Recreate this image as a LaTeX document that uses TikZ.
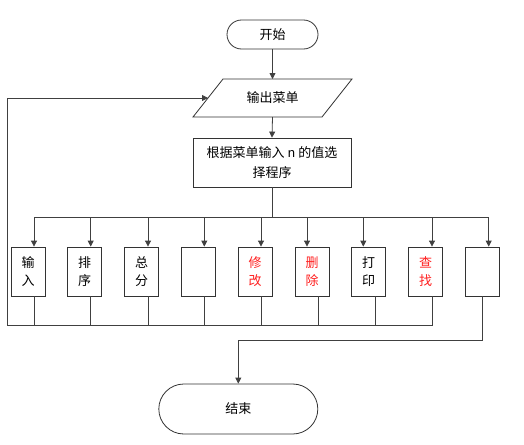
\documentclass[tikz,border=0pt]{standalone}
\usepackage{fontspec}
\setmainfont{Noto Sans CJK SC}
\newfontfamily\nfont{Liberation Mono}
\usetikzlibrary{arrows.meta}
\definecolor{linecol}{HTML}{404040}
\definecolor{redtxt}{HTML}{FF2020}
\begin{document}
\begin{tikzpicture}[x=1pt,y=-1pt,
  every node/.style={font=\fontsize{13}{18}\selectfont, inner sep=0pt},
  ln/.style={draw=linecol, line width=0.8pt},
  arr/.style={ln, -{Triangle[length=6pt,width=6pt]}},
  shape box/.style={draw=black!80, line width=0.8pt, fill=white},
  term/.style={shape box, rounded corners},
  smallbox/.style={shape box, minimum width=34pt, minimum height=49pt, align=center}]
\useasboundingbox (0,0) rectangle (524,444);
% start
\node[term, minimum width=91pt, minimum height=29pt, rounded corners=14.5pt] (start) at (272.5,34.5) {开始};
% menu parallelogram
\draw[shape box] (223,79) -- (352,79) -- (322,117) -- (193,117) -- cycle;
\node (menu) at (272.5,98) {输出菜单};
\coordinate (mtop) at (272.5,79);
\coordinate (mbot) at (272.5,117);
\coordinate (mleft) at (208,98);
% process
\node[shape box, minimum width=158pt, minimum height=49pt, align=center, font=\fontsize{13}{20}\selectfont] (proc) at (272,162.5) {根据菜单输入 {\nfont n} 的值选\\择程序};
% end
\node[term, minimum width=159pt, minimum height=50pt, rounded corners=25pt] (end) at (238.3,409) {结束};

\draw[arr] (start.south) -- (mtop);
\draw[arr] (mbot) -- (proc.north);

% small boxes
\node[smallbox] (b1) at (28,271.5) {输\\入};
\node[smallbox] (b2) at (84.5,271.5) {排\\序};
\node[smallbox] (b3) at (141.5,271.5) {总\\分};
\node[smallbox] (b4) at (198,271.5) {};
\node[smallbox, text=redtxt] (b5) at (255,271.5) {修\\改};
\node[smallbox, text=redtxt] (b6) at (312,271.5) {删\\除};
\node[smallbox] (b7) at (368.5,271.5) {打\\印};
\node[smallbox, text=redtxt] (b8) at (425.5,271.5) {查\\找};
\node[smallbox] (b9) at (482,271.5) {};

% top bus
\coordinate (a1) at (34,217);
\coordinate (a2) at (90.7,217);
\coordinate (a3) at (148,217);
\coordinate (a4) at (204.3,217);
\coordinate (a5) at (261,217);
\coordinate (a6) at (307,217);
\coordinate (a7) at (363.3,217);
\coordinate (a8) at (432,217);
\coordinate (a9) at (488.7,217);
\draw[ln] (proc.south) -- (proc.south |- a1);
\draw[ln] (a1) -- (a9);
\foreach \i in {1,...,9} {\draw[arr] (a\i) -- (a\i |- b\i.north);}

% bottom bus
\coordinate (c1) at (34,325.7);
\coordinate (c2) at (90.7,325.7);
\coordinate (c3) at (148,325.7);
\coordinate (c4) at (204.3,325.7);
\coordinate (c5) at (261,325.7);
\coordinate (c6) at (318,325.7);
\coordinate (c7) at (375,325.7);
\coordinate (c8) at (432,325.7);
\foreach \i in {1,...,8} {\draw[ln] (c\i |- b\i.south) -- (c\i);}
\coordinate (lc) at (7,325.7);
\draw[arr] (c8) -- (lc) -- (lc |- mleft) -- (mleft);

% exit
\coordinate (e1) at (482,340);
\draw[arr] (b9.south) -- (e1) -- (e1 -| end.north) -- (end.north);
\end{tikzpicture}
\end{document}
